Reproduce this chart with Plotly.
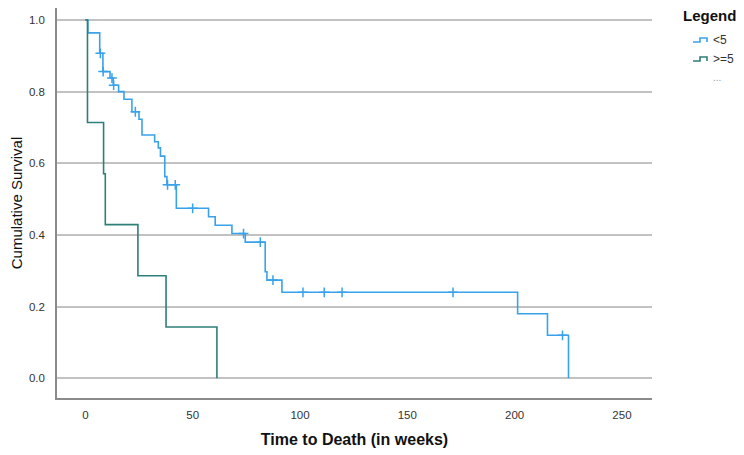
import plotly.graph_objects as go

# ---- data ----
grp_a_name = "<5"
grp_a_time = [0, 1.2, 6.7, 8.2, 11.5, 13.0, 15.5, 18.0, 21.7, 25.0, 26.4, 32.3, 34.0, 35.0, 37.0, 38.0,
              42.4, 57.4, 60.5, 68.3, 74.5, 83.8, 84.6, 91.6, 201.4, 215.3, 225.1]
grp_a_surv = [1.0, 0.964, 0.907, 0.856, 0.838, 0.818, 0.80, 0.779, 0.744, 0.723, 0.679, 0.66, 0.643, 0.62, 0.563, 0.54,
              0.4745, 0.451, 0.427, 0.404, 0.38, 0.2975, 0.274, 0.24, 0.18, 0.12, 0.0]
grp_a_cens_time = [7.0, 8.3, 12.4, 13.2, 23.3, 38.3, 41.9, 50.0, 73.7, 81.5, 87.4, 101.4, 111.3, 119.6, 171.3, 222.3]
grp_a_cens_surv = [0.907, 0.856, 0.838, 0.818, 0.744, 0.54, 0.54, 0.4745, 0.404, 0.38, 0.274, 0.24, 0.24, 0.24, 0.24, 0.12]

grp_b_name = ">=5"
grp_b_time = [0, 1.0, 8.5, 9.3, 24.5, 37.6, 61.3]
grp_b_surv = [1.0, 0.714, 0.571, 0.429, 0.286, 0.143, 0.0]

x_ticks = [0, 50, 100, 150, 200, 250]
y_ticks = [0.0, 0.2, 0.4, 0.6, 0.8, 1.0]

legend_title = "Legend"
legend_more = "..."

color_a = "#39a2ec"
color_b = "#2f7e78"

# the page body adds an 8px offset, so the figure is 8px smaller than the window
OFF = 8
W, H = 744 - OFF, 455 - OFF
ML, MR, MT, MB = 49, 92, 0, 57
PW, PH = W - ML - MR, H - MT - MB


def px2paper(sx, sy):
    # screen pixel -> paper coordinates
    fx, fy = sx - OFF, sy - OFF
    return (fx - ML) / PW, (H - MB - fy) / PH


fig = go.Figure()
fig.add_trace(go.Scatter(x=grp_a_time, y=grp_a_surv, mode="lines", line_shape="hv",
                         line=dict(color=color_a, width=1.6), name=grp_a_name, showlegend=False))
fig.add_trace(go.Scatter(x=grp_b_time, y=grp_b_surv, mode="lines", line_shape="hv",
                         line=dict(color=color_b, width=1.6), name=grp_b_name, showlegend=False))
fig.add_trace(go.Scatter(x=grp_a_cens_time, y=grp_a_cens_surv, mode="markers", showlegend=False,
                         marker=dict(symbol="cross-thin", size=7, line=dict(color=color_a, width=1.5))))

# ---- manual legend (step-shaped icons like the reference) ----
annotations = []
shapes = []
tx, ty = px2paper(709, 15)
annotations.append(dict(xref="paper", yref="paper", x=tx, y=ty, text="<b>%s</b>" % legend_title,
                        showarrow=False, xanchor="center", yanchor="middle",
                        font=dict(size=15, color="#111")))
for name, col, py in [(grp_a_name, color_a, 40), (grp_b_name, color_b, 59)]:
    pts = [(693, py + 2), (700, py + 2), (700, py - 2), (707, py - 2), (707, py + 2)]
    path = ""
    for i, (ax, ay) in enumerate(pts):
        qx, qy = px2paper(ax, ay)
        path += ("M" if i == 0 else " L") + " %.5f,%.5f" % (qx, qy)
    shapes.append(dict(type="path", xref="paper", yref="paper", path=path,
                       line=dict(color=col, width=1.6)))
    lx, ly = px2paper(711, py)
    annotations.append(dict(xref="paper", yref="paper", x=lx, y=ly, text=name.replace("<", "&lt;"),
                            showarrow=False, xanchor="left", yanchor="middle",
                            font=dict(size=12, color="#333")))
mx, my = px2paper(711, 77)
annotations.append(dict(xref="paper", yref="paper", x=mx, y=my, text=legend_more,
                        showarrow=False, xanchor="left", yanchor="middle",
                        font=dict(size=10, color="#9a9a9a")))

fig.update_layout(
    width=W, height=H,
    margin=dict(l=ML, r=MR, t=MT, b=MB, autoexpand=False),
    paper_bgcolor="white", plot_bgcolor="white",
    font=dict(family="Liberation Sans, Arial, sans-serif", color="#222"),
    showlegend=False,
    annotations=annotations, shapes=shapes,
    xaxis=dict(range=[-13.2, 264], tickvals=x_ticks, ticktext=[str(v) for v in x_ticks],
               showgrid=False, zeroline=False, showline=True, linecolor="#8a8a8a", linewidth=1.5,
               ticks="", tickfont=dict(size=11.5, color="#333"), automargin=False,
               ticklabelstandoff=5,
               title=dict(text="<b>Time to Death (in weeks)</b>", font=dict(size=16, color="#111"), standoff=14)),
    yaxis=dict(range=[-0.055, 1.0335], tickvals=y_ticks, ticktext=["%.1f" % v for v in y_ticks],
               showgrid=True, gridcolor="#c2c2c2", gridwidth=1.6, zeroline=False,
               showline=True, linecolor="#8a8a8a", linewidth=1.5,
               ticks="", tickfont=dict(size=11.5, color="#333"), automargin=False,
               ticklabelstandoff=8,
               title=dict(text="Cumulative Survival", font=dict(size=15, color="#111"), standoff=15)),
)

fig.write_html("out.html")
